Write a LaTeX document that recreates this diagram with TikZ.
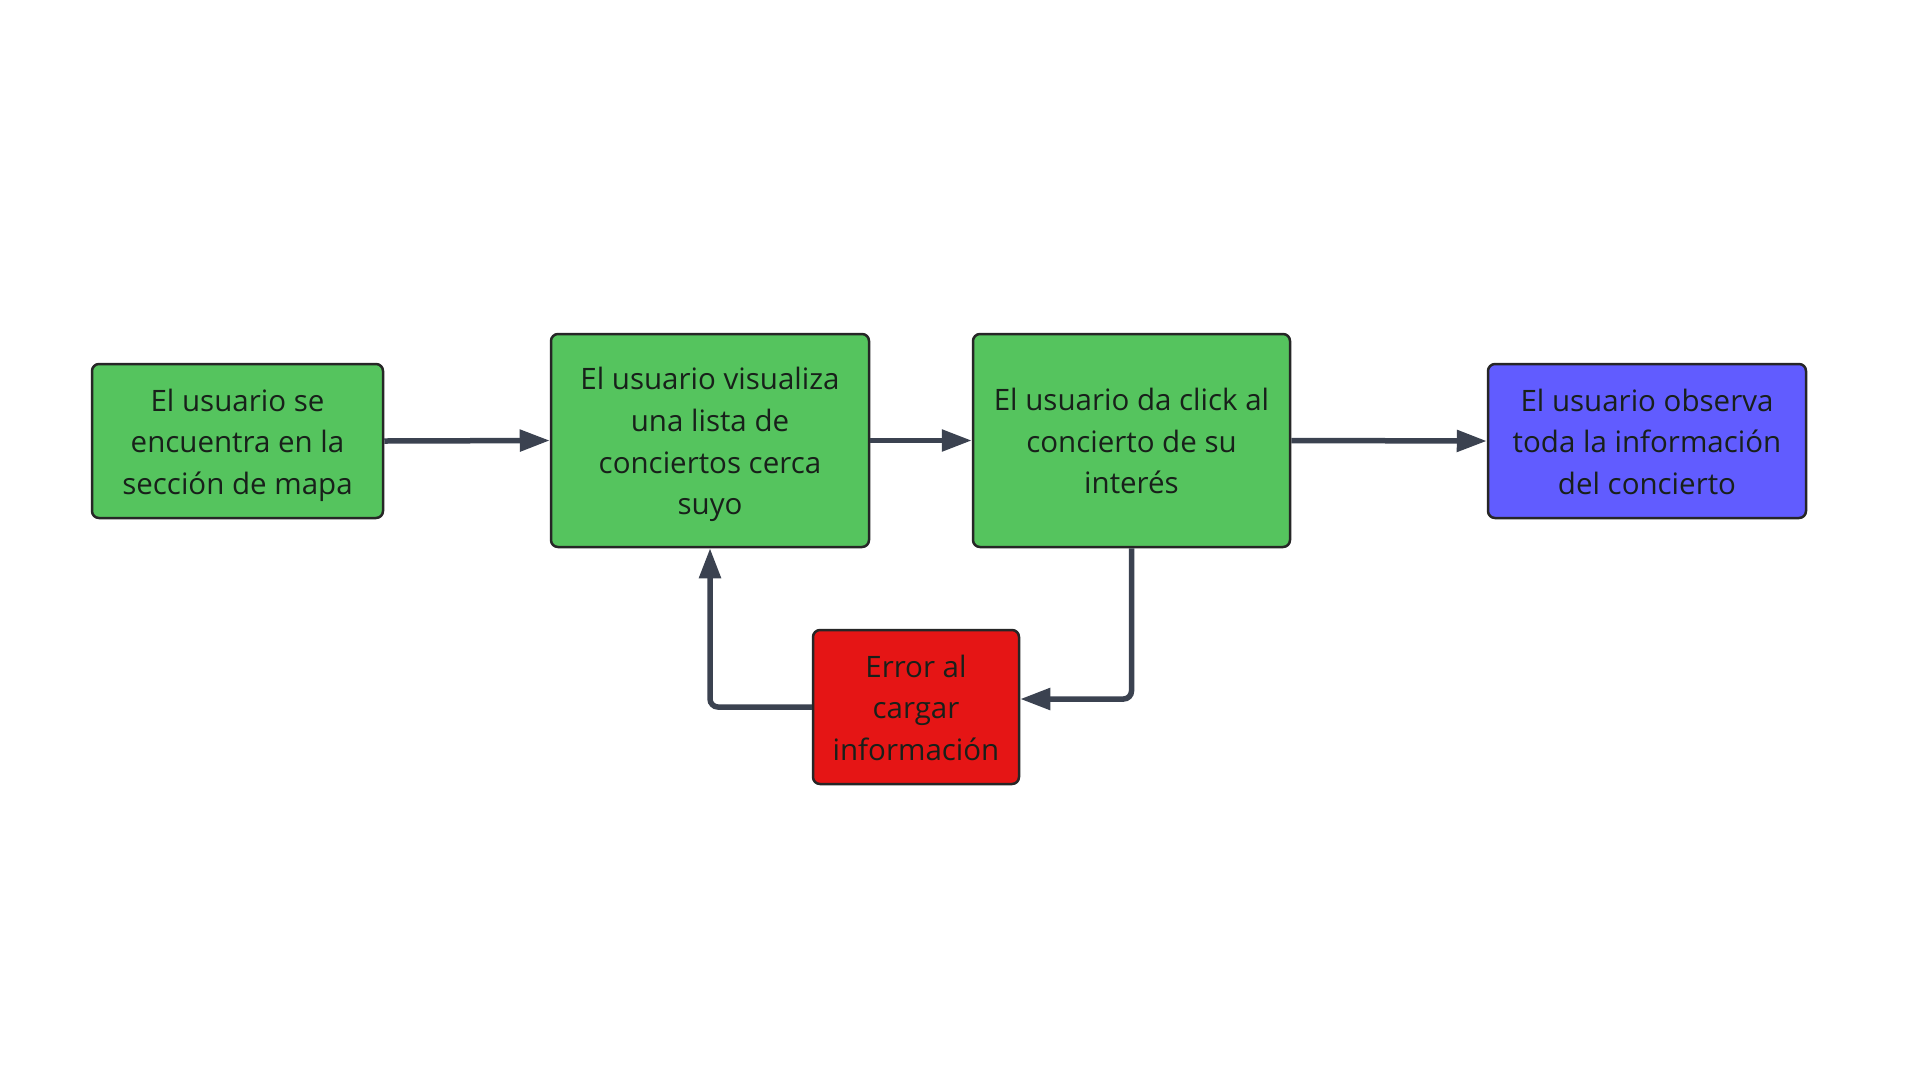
\documentclass[tikz,border=0pt]{standalone}
\usepackage{fontspec}
\setmainfont{Open Sans}
\usetikzlibrary{arrows.meta}
\definecolor{boxgreen}{HTML}{55C45E}
\definecolor{boxblue}{HTML}{615CFF}
\definecolor{boxred}{HTML}{E51515}
\definecolor{linegray}{HTML}{3B4250}
\definecolor{txt}{HTML}{18201A}
\newcommand{\mytopstrut}{\rule{0pt}{31pt}}
\newcommand{\mybotstrut}{\rule[-7.5pt]{0pt}{7.5pt}}
\tikzset{
  flowbox/.style={draw=black!85, line width=2.5pt, rounded corners=7pt, align=center,
    inner sep=0pt, text=txt, font=\fontsize{29.5}{41.6}\selectfont},
  arr/.style={draw=linegray, line width=5.5pt, -{Triangle[length=30pt,width=21pt]}}
}
\begin{document}
\begin{tikzpicture}[x=1pt,y=-1pt]
\useasboundingbox[fill=white] (0,0) rectangle (1920,1080);
\node[flowbox, fill=boxgreen, minimum width=291pt, minimum height=154pt] (b1) at (237.5,441)
  {\mytopstrut El usuario se\\encuentra en la\\sección de mapa\mybotstrut};
\node[flowbox, fill=boxgreen, minimum width=318pt, minimum height=213pt] (b2) at (710,440.5)
  {\mytopstrut El usuario visualiza\\una lista de\\conciertos cerca\\suyo\mybotstrut};
\node[flowbox, fill=boxgreen, minimum width=317pt, minimum height=213pt] (b3) at (1131.5,440.5)
  {\mytopstrut El usuario da click al\\concierto de su\\interés\mybotstrut};
\node[flowbox, fill=boxblue, minimum width=318pt, minimum height=154pt] (b4) at (1647,441)
  {\mytopstrut El usuario observa\\toda la información\\del concierto\mybotstrut};
\node[flowbox, fill=boxred, minimum width=206pt, minimum height=154pt] (err) at (916,707)
  {\mytopstrut Error al\\cargar\\información\mybotstrut};
\draw[arr] (b1.east) -- (b2.west);
\draw[arr] (b2.east) -- (b3.west);
\draw[arr] (b3.east) -- (b4.west);
\draw[arr, rounded corners=8pt] (b3.south) |- ([yshift=8pt]err.east);
\draw[arr, rounded corners=8pt] (err.west) -| (b2.south);
\end{tikzpicture}
\end{document}
